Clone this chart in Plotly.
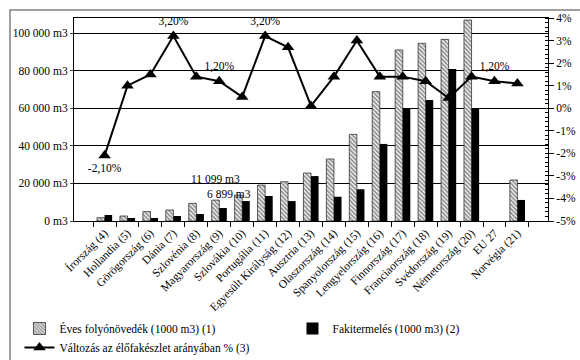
import plotly.graph_objects as go

categories = ["Írország (4)", "Hollandia (5)", "Görögország (6)", "Dánia (7)", "Szlovénia (8)",
              "Magyarország (9)", "Szlovákia (10)", "Portugália (11)", "Egyesült Királyság (12)",
              "Ausztria (13)", "Olaszország (14)", "Spanyolország (15)", "Lengyelország (16)",
              "Finnország (17)", "Franciaország (18)", "Svédország (19)", "Németország (20)",
              "EU 27", "Norvégia (21)"]
growth = [1750, 2650, 5000, 5850, 9400, 11099, 13800, 19100, 20900, 25500, 33000, 46100,
          68800, 91000, 94500, 96600, 106900, None, 21800]
felling = [3200, 1600, 1600, 2650, 3700, 6899, 10600, 13300, 10600, 23900, 12900, 16900,
           41000, 59900, 64400, 80900, 59900, None, 11200]
change = [-2.1, 1.0, 1.5, 3.2, 1.4, 1.2, 0.5, 3.2, 2.7, 0.1, 1.4, 3.0, 1.4, 1.4, 1.2, 0.45,
          1.4, 1.2, 1.1]
change_labels = ["-2,10%", "", "", "3,20%", "", "1,20%", "", "3,20%", "", "", "", "", "", "",
                 "", "", "", "1,20%", ""]
left_ticks = [0, 20000, 40000, 60000, 80000, 100000]
left_ticktext = ["0 m3", "20 000 m3", "40 000 m3", "60 000 m3", "80 000 m3", "100 000 m3"]
right_ticks = [-5, -4, -3, -2, -1, 0, 1, 2, 3, 4]
right_ticktext = ["-5%", "-4%", "-3%", "-2%", "-1%", "0%", "1%", "2%", "3%", "4%"]

FONT = "Times New Roman, Liberation Serif, serif"
FS = 11.5

fig = go.Figure()
fig.add_trace(go.Bar(
    x=categories, y=growth, name="Éves folyónövedék (1000 m3) (1)",
    marker=dict(color="white", line=dict(color="#333333", width=0.8),
                pattern=dict(shape="\\", fgcolor="#222222", bgcolor="white", size=3, solidity=0.6)),
))
fig.add_trace(go.Bar(
    x=categories, y=felling, name="Fakitermelés (1000 m3) (2)",
    marker=dict(color="black", line=dict(color="black", width=0)),
))
pos = ["bottom center" if v < 0 else "top center" for v in change]
fig.add_trace(go.Scatter(
    x=categories, y=change, name="Változás az élőfakészlet arányában % (3)", yaxis="y2",
    mode="lines+markers+text", text=change_labels, textposition=pos,
    textfont=dict(family=FONT, size=FS, color="black"),
    line=dict(color="black", width=2),
    marker=dict(symbol="triangle-up", size=11, color="black"),
))

fig.add_annotation(x=categories[5], y=growth[5], text="11 099 m3", showarrow=False,
                   xshift=-4, yshift=21, font=dict(family=FONT, size=FS, color="black"))
fig.add_annotation(x=categories[5], y=felling[5], text="6 899 m3", showarrow=False,
                   xshift=10, yshift=14, font=dict(family=FONT, size=FS, color="black"))

# outer frame
fig.add_shape(type="rect", xref="paper", yref="paper",
              x0=(10 - 74) / 474, x1=(600 - 74) / 474,
              y0=(221 - 380) / 203, y1=1 + 8 / 203,
              line=dict(color="#808080", width=1.5), fillcolor="rgba(0,0,0,0)", layer="below")

fig.update_layout(
    width=580, height=360,
    margin=dict(l=74, r=32, t=18, b=139, autoexpand=False),
    paper_bgcolor="white", plot_bgcolor="white",
    font=dict(family=FONT, size=FS, color="black"),
    barmode="group", bargap=0.34, bargroupgap=0,
    showlegend=True,
    legend=dict(orientation="h", x=-0.115, xanchor="left", y=-0.458, yanchor="top",
                entrywidth=228, entrywidthmode="pixels", traceorder="normal",
                font=dict(family=FONT, size=FS, color="black"), bgcolor="rgba(0,0,0,0)",
                itemwidth=30, tracegroupgap=0),
    xaxis=dict(tickangle=-45, showline=True, linecolor="black", linewidth=1, mirror=True,
               ticks="outside", ticklen=5, tickcolor="black", tickson="boundaries",
               showgrid=False, tickfont=dict(family=FONT, size=FS)),
    yaxis=dict(range=[0, 108000], tickvals=left_ticks, ticktext=left_ticktext,
               showline=True, linecolor="black", linewidth=1, ticks="outside", ticklen=3,
               showgrid=True, gridcolor="black", gridwidth=1, zeroline=False,
               tickfont=dict(family=FONT, size=FS)),
    yaxis2=dict(range=[-5, 4], tickvals=right_ticks, ticktext=right_ticktext,
                overlaying="y", side="right", showline=True, linecolor="black", linewidth=1,
                ticks="outside", ticklen=5, tickcolor="black", showgrid=False, zeroline=False,
                minor=dict(ticks="inside", dtick=0.2, ticklen=3, tickcolor="black", showgrid=False),
                tickfont=dict(family=FONT, size=FS)),
)

fig.write_html("out.html", config={"displayModeBar": False},
               post_script="document.body.style.margin='0';")
